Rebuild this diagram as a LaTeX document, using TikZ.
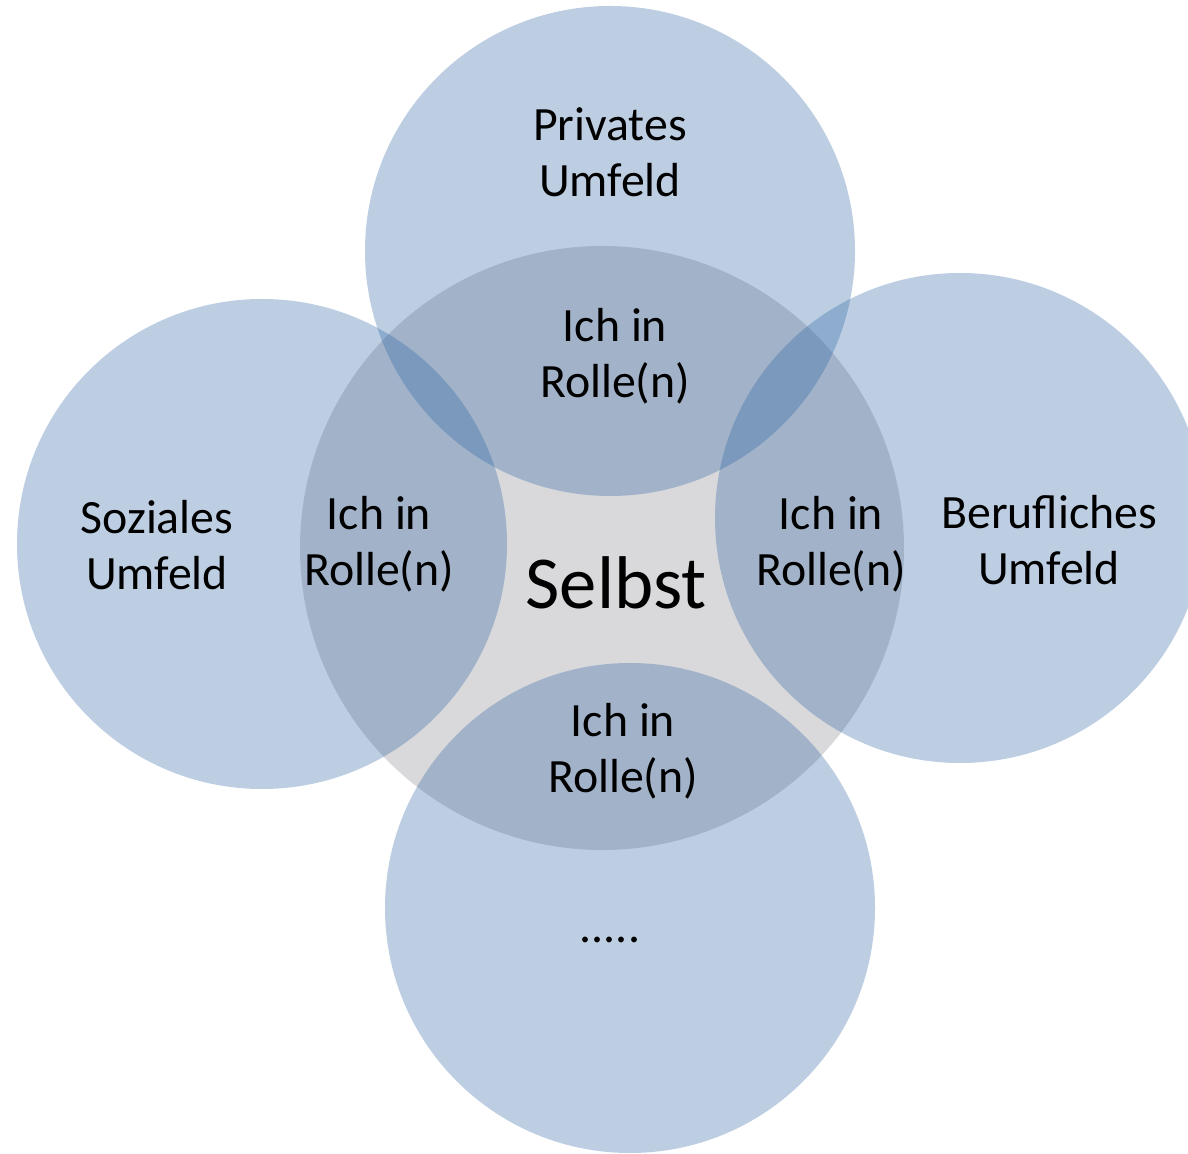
\documentclass[tikz,border=0pt]{standalone}
\usepackage{fontspec}
\setmainfont{Carlito}
\definecolor{kreisblau}{RGB}{36,94,160}
\definecolor{selbstgrau}{RGB}{217,217,220}
\begin{document}
\begin{tikzpicture}
\tikzset{kreis/.style={circle, fill=kreisblau, fill opacity=0.3, minimum size=9.8cm, inner sep=0pt},
  rolle/.style={align=center, font=\fontsize{27.2}{31.9}\selectfont}}
\useasboundingbox (0, 0) rectangle (23.76, 23.06);
\clip (0, 0) rectangle (23.76, 23.06);
\node[circle, fill=selbstgrau, minimum size=12.08cm, inner sep=0pt] (K0) at (12.04, 12.1) {};
\node[kreis] (K1) at (12.2, 18.04) {};
\node[kreis] (K2) at (5.24, 12.18) {};
\node[kreis] (K3) at (19.2, 12.7) {};
\node[kreis] (K4) at (12.6, 4.9) {};
\node[rolle] (U1) at (12.2, 20.01) {Privates\\Umfeld};
\node[rolle] (U2) at (3.14, 12.15) {Soziales\\Umfeld};
\node[rolle] (U3) at (20.98, 12.25) {Berufliches\\Umfeld};
\node[rolle] (U4) at (12.2, 4.26) {.....};
\node[rolle] (R1) at (12.3, 15.94) {Ich in\\Rolle(n)};
\node[rolle] (R2) at (7.58, 12.17) {Ich in\\Rolle(n)};
\node[rolle] (R3) at (16.62, 12.17) {Ich in\\Rolle(n)};
\node[rolle] (R4) at (12.46, 8.04) {Ich in\\Rolle(n)};
\node[font=\fontsize{42.5}{50}\selectfont] (S) at (12.32, 11.41) {Selbst};
\end{tikzpicture}
\end{document}
